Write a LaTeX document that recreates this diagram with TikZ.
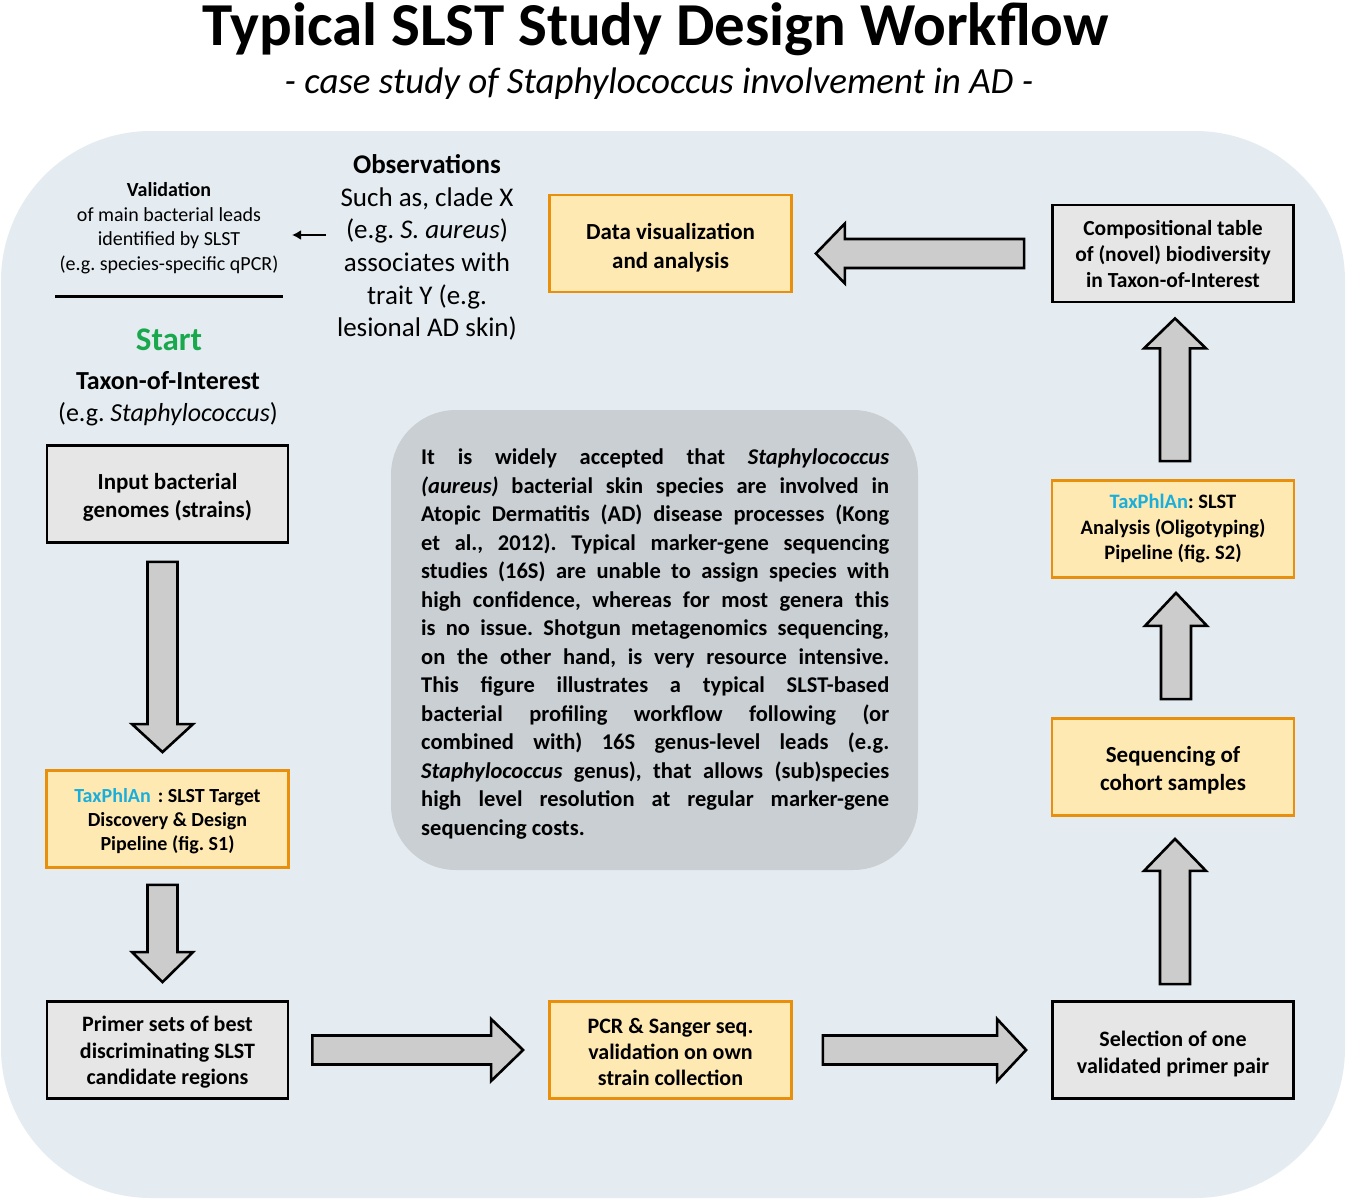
\documentclass[tikz,border=0pt]{standalone}
\usepackage{fontspec}
\setmainfont{Carlito}
\usetikzlibrary{calc,arrows.meta}
\definecolor{bgblue}{HTML}{E4ECF2}
\definecolor{greyfill}{HTML}{E6E6E6}
\definecolor{yelfill}{HTML}{FFE9B3}
\definecolor{orangeline}{HTML}{E8900C}
\definecolor{arrowgrey}{HTML}{CCCCCC}
\definecolor{centergrey}{HTML}{C9CFD3}
\definecolor{taxcyan}{HTML}{1AAEDC}
\definecolor{startgreen}{HTML}{19A84C}
\newcommand\fsz[2]{\fontsize{#1pt}{#2pt}\selectfont}
% block arrows: start, tip, head length
\newcommand\BArR[3]{\draw[barrow] ($(#1)+(0,-14.5)$) -- ($(#2)+(-#3,-14.5)$) -- ($(#2)+(-#3,-31)$) -- (#2) -- ($(#2)+(-#3,31)$) -- ($(#2)+(-#3,14.5)$) -- ($(#1)+(0,14.5)$) -- cycle;}
\newcommand\BArL[3]{\draw[barrow] ($(#1)+(0,-14.5)$) -- ($(#2)+(#3,-14.5)$) -- ($(#2)+(#3,-30)$) -- (#2) -- ($(#2)+(#3,30)$) -- ($(#2)+(#3,14.5)$) -- ($(#1)+(0,14.5)$) -- cycle;}
\newcommand\BArD[3]{\draw[barrow] ($(#1)+(-15,0)$) -- ($(#2)+(-15,-#3)$) -- ($(#2)+(-30.5,-#3)$) -- (#2) -- ($(#2)+(30.5,-#3)$) -- ($(#2)+(15,-#3)$) -- ($(#1)+(15,0)$) -- cycle;}
\newcommand\BArU[3]{\draw[barrow] ($(#1)+(-15,0)$) -- ($(#2)+(-15,#3)$) -- ($(#2)+(-31,#3)$) -- (#2) -- ($(#2)+(31,#3)$) -- ($(#2)+(15,#3)$) -- ($(#1)+(15,0)$) -- cycle;}
\begin{document}
\frenchspacing
\begin{tikzpicture}[x=1pt,y=-1pt,
  gbox/.style={draw=black, fill=greyfill, line width=2.8pt, minimum width=241pt, minimum height=97pt, align=center, inner sep=0pt},
  ybox/.style={draw=orangeline, fill=yelfill, line width=2.8pt, minimum width=242pt, minimum height=97pt, align=center, inner sep=0pt},
  barrow/.style={draw=black, fill=arrowgrey, line width=2.6pt, line join=miter},
  plain/.style={align=center, inner sep=0pt}]
\useasboundingbox (0,0) rectangle (1346,1199);
\fill[white] (0,0) rectangle (1346,1199);
\fill[bgblue, rounded corners=150pt] (1,131) rectangle (1345,1198);

% titles
\node[plain, anchor=base, font={\fsz{61}{70}\bfseries}] (title) at (655.5,46) {Typical SLST Study Design Workflow};
\node[plain, anchor=base, font={\fsz{37}{44}\itshape}] (subtitle) at (659,93) {- case study of Staphylococcus involvement in AD -};

% left text blocks
\node[plain, font={\fsz{20}{24.5}}] (valid) at (169,228) {\textbf{Validation}\\of main bacterial leads\\identified by SLST\\(e.g. species-specific qPCR)};
\node[plain, font={\fsz{27}{32.6}}] (obs) at (427,247.5) {\textbf{Observations}\\Such as, clade X\\(e.g. \textit{S. aureus})\\associates with\\trait Y (e.g.\\lesional AD skin)};
\coordinate (obsarr) at (326,235);
\coordinate (valarr) at (292,235);
\draw[line width=2pt, -{Latex[length=9pt,width=10pt]}] (obsarr) -- (valarr);
\draw[line width=3pt] (55,296) coordinate (l1) -- (283,296) coordinate (l2);
\node[plain, font={\fsz{33}{40}\bfseries}, text=startgreen] (start) at (169,340) {Start};
\node[plain, font={\fsz{26}{32}}] (taxon) at (168,399) {\textbf{Taxon-of-Interest}\\(e.g. \textit{Staphylococcus})};

% boxes
\node[gbox, font={\fsz{23}{28}\bfseries}] (inp) at (167.5,494) {\rule{0pt}{22.6pt}Input bacterial\\genomes (strains)};
\node[ybox, font={\fsz{20}{24}\bfseries}] (tax1) at (167.5,819) {\rule{0pt}{18.4pt}\textcolor{taxcyan}{TaxPhlAn}\hspace{7pt}: SLST Target\\Discovery \& Design\\Pipeline (fig. S1)};
\node[gbox, font={\fsz{22}{26.5}\bfseries}] (primer) at (167.5,1050) {\rule{0pt}{19.8pt}Primer sets of best\\discriminating SLST\\candidate regions};
\node[ybox, font={\fsz{22}{26}\bfseries}] (pcr) at (670.5,1050) {\rule{0pt}{19.8pt}PCR \& Sanger seq.\\validation on own\\strain collection};
\node[gbox, font={\fsz{22}{27}\bfseries}] (sel) at (1173,1050) {\rule{0pt}{23.8pt}Selection of one\\validated primer pair};
\node[ybox, font={\fsz{23}{28}\bfseries}] (seq) at (1173,767) {\rule{0pt}{22.6pt}Sequencing of\\cohort samples};
\node[ybox, font={\fsz{20.5}{25.5}\bfseries}] (tax2) at (1173,529) {\textcolor{taxcyan}{TaxPhlAn}: SLST\\Analysis (Oligotyping)\\Pipeline (fig. S2)};
\node[gbox, font={\fsz{21.5}{26}\bfseries}] (comp) at (1173,253.5) {\rule{0pt}{15.4pt}Compositional table\\of (novel) biodiversity\\in Taxon-of-Interest};
\node[ybox, font={\fsz{23}{29}\bfseries}] (dv) at (670.5,243.5) {\rule{0pt}{24.6pt}Data visualization\\and analysis};

% central box
\fill[centergrey, rounded corners=65pt] (391,410) rectangle (918,870);
\node[plain, anchor=north west, align=left, font={\fsz{22.5}{28.5}\bfseries}] (central) at (421,449) {%
\makebox[468pt][s]{It is widely accepted that \textit{Staphylococcus}}\\
\makebox[468pt][s]{\textit{(aureus)} bacterial skin species are involved in}\\
\makebox[468pt][s]{Atopic Dermatitis (AD) disease processes (Kong}\\
\makebox[468pt][s]{et al., 2012). Typical marker-gene sequencing}\\
\makebox[468pt][s]{studies (16S) are unable to assign species with}\\
\makebox[468pt][s]{high confidence, whereas for most genera this}\\
\makebox[468pt][s]{is no issue. Shotgun metagenomics sequencing,}\\
\makebox[468pt][s]{on the other hand, is very resource intensive.}\\
\makebox[468pt][s]{This figure illustrates a typical SLST-based}\\
\makebox[468pt][s]{bacterial profiling workflow following (or}\\
\makebox[468pt][s]{combined with) 16S genus-level leads (e.g.}\\
\makebox[468pt][s]{\textit{Staphylococcus} genus), that allows (sub)species}\\
\makebox[468pt][s]{high level resolution at regular marker-gene}\\
\makebox[468pt][l]{sequencing costs.}};

% block arrows
\coordinate (a1s) at ($(inp.south)+(-5,18)$);  \coordinate (a1t) at ($(tax1.north)+(-5,-17)$);
\BArD{a1s}{a1t}{28}
\coordinate (a2s) at ($(tax1.south)+(-5,16)$); \coordinate (a2t) at ($(primer.north)+(-5,-18)$);
\BArD{a2s}{a2t}{30}
\coordinate (a3s) at ($(primer.east)+(23,0)$); \coordinate (a3t) at ($(pcr.west)+(-25,0)$);
\BArR{a3s}{a3t}{32}
\coordinate (a4s) at ($(pcr.east)+(30,0)$); \coordinate (a4t) at ($(sel.west)+(-25,0)$);
\BArR{a4s}{a4t}{29}
\coordinate (a5s) at ($(sel.north)+(2,-16)$); \coordinate (a5t) at ($(seq.south)+(2,22)$);
\BArU{a5s}{a5t}{32}
\coordinate (a6s) at ($(seq.north)+(3,-18)$); \coordinate (a6t) at ($(tax2.south)+(3,14)$);
\BArU{a6s}{a6t}{33}
\coordinate (a7s) at ($(tax2.north)+(2,-18)$); \coordinate (a7t) at ($(comp.south)+(2,15)$);
\BArU{a7s}{a7t}{30}
\coordinate (a8s) at ($(comp.west)+(-27,0)$); \coordinate (a8t) at ($(dv.east |- comp.west)+(23,0)$);
\BArL{a8s}{a8t}{29}
\end{tikzpicture}
\end{document}
